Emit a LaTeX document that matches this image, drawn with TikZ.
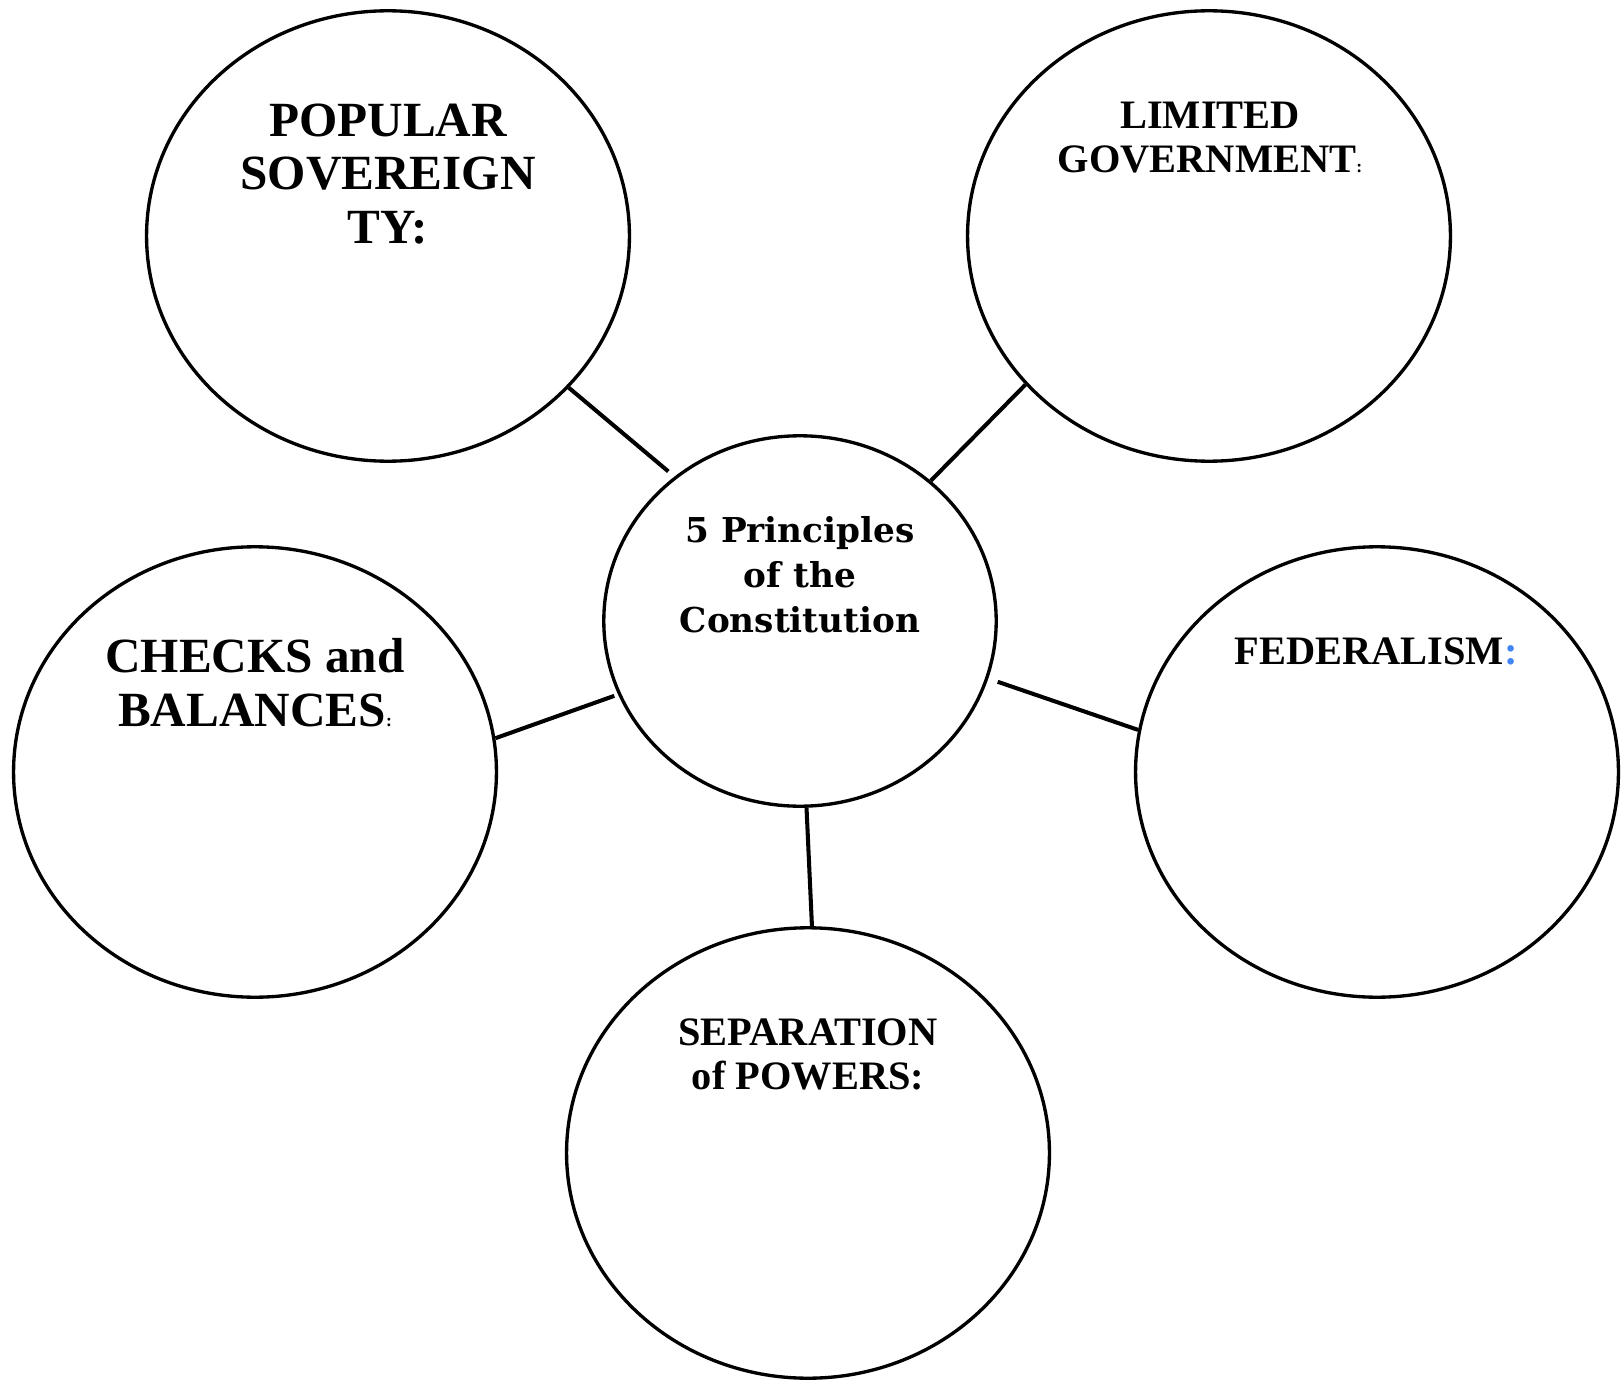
\documentclass[tikz,border=0pt]{standalone}
\usepackage{fontspec}
\setmainfont{Liberation Serif}
\newfontfamily\hubfont{DejaVu Serif}
\usetikzlibrary{shapes.geometric}
\definecolor{colonblue}{RGB}{66,133,244}
\begin{document}
\begin{tikzpicture}[x=0.02cm, y=-0.02cm,
	bubble/.style={draw=black, line width=1.9pt, ellipse, inner sep=0pt, minimum width=9.66cm, minimum height=9.01cm},
	hub/.style={draw=black, line width=1.9pt, ellipse, inner sep=0pt, minimum width=7.85cm, minimum height=7.41cm},
	spoke/.style={line width=2.3pt},
	bigtitle/.style={align=center, inner sep=0pt, font=\bfseries\fontsize{28}{30.6}\selectfont},
	smalltitle/.style={align=center, inner sep=0pt, font=\bfseries\fontsize{23}{25}\selectfont},
	hubtitle/.style={align=center, inner sep=0pt, font=\hubfont\bfseries\fontsize{19.5}{25.5}\selectfont}]
	\useasboundingbox (0,0) rectangle (1623,1382);
	% Hub
	\node [hub] (hub) at (800,621) {};
	\node [hubtitle] (hubtext) at (800,575) {5 Principles\\of the\\Constitution};
	% Bubbles
	\node [bubble] (popular) at (388,236) {};
	\node [bubble] (limited) at (1209,236) {};
	\node [bubble] (checks) at (255,772) {};
	\node [bubble] (federal) at (1377,772) {};
	\node [bubble] (separation) at (808,1153) {};
	% Titles
	\node [bigtitle] (populartext) at (388,174) {POPULAR\\SOVEREIGN\\TY:};
	\node [smalltitle] (limitedtext) at (1210,138) {LIMITED\\GOVERNMENT{\fontsize{10}{10}\selectfont:}};
	\node [bigtitle] (checkstext) at (255,683) {CHECKS and\\BALANCES{\fontsize{10}{10}\selectfont:}};
	\node [smalltitle] (federaltext) at (1376,651) {FEDERALISM\textcolor{colonblue}{:}};
	\node [smalltitle] (separationtext) at (808,1054) {SEPARATION\\of POWERS:};
	% Spokes
	\draw [spoke, shorten <=0.16cm] (hub.131) -- (popular.-40);
	\draw [spoke] (hub.47) -- (limited.-141);
	\draw [spoke, shorten <=0.08cm] (hub.-158) -- (checks.8);
	\draw [spoke, shorten <=0.2cm] (hub.-17.5) -- (federal.170.5);
	\draw [spoke] (hub.-88.4) -- (separation.89.5);
\end{tikzpicture}
\end{document}
